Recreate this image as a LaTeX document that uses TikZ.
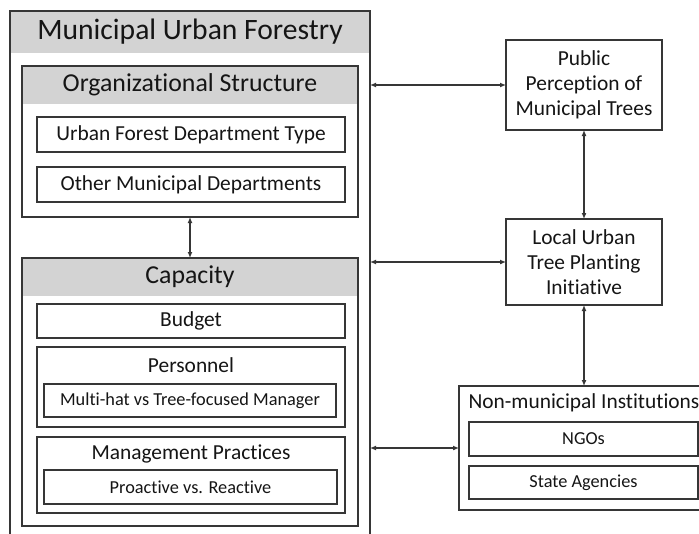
\documentclass[tikz,border=0pt]{standalone}
\usepackage{fontspec}
\setmainfont[Ligatures=NoCommon]{Carlito}
\usetikzlibrary{arrows.meta}
\definecolor{framec}{HTML}{363636}
\definecolor{headc}{HTML}{D3D3D3}
\definecolor{textc}{HTML}{151515}
\newcommand{\fsTitle}{\fontsize{29.6}{35}\selectfont}
\newcommand{\fsHead}{\fontsize{25.8}{30}\selectfont}
\newcommand{\fsItem}{\fontsize{21.4}{25}\selectfont}
\newcommand{\fsSub}{\fontsize{18.3}{22}\selectfont}
\begin{document}
\begin{tikzpicture}[x=1pt,y=-1pt,
  frame/.style={draw=framec, line width=1.3pt, inner sep=0pt, outer sep=0pt, anchor=north west},
  lbl/.style={text=textc, inner sep=0pt, align=center},
  link/.style={draw=framec, line width=1.3pt, {Latex[length=6pt,width=5pt]}-{Latex[length=6pt,width=5pt]}}
]
\useasboundingbox (0,0) rectangle (699,533);
\fill[white] (0,0) rectangle (699,533);
\clip (0,0) rectangle (699,533);

% header bands
\fill[headc] (10,11) rectangle (370,53);
\fill[headc] (22,66) rectangle (358,104);
\fill[headc] (22,258) rectangle (358,296);

% municipal side
\node[frame, minimum width=360pt, minimum height=549pt] (muf) at (10,11) {};
\node[lbl, font=\fsTitle] (muft) at (190,32) {Municipal Urban Forestry};

\node[frame, minimum width=336pt, minimum height=151pt] (org) at (22,66) {};
\node[lbl, font=\fsHead] (orgt) at (190,85) {Organizational Structure};
\node[frame, minimum width=308pt, minimum height=35pt, font=\fsItem, text=textc] (ufdt) at (37,117) {Urban Forest Department Type};
\node[frame, minimum width=308pt, minimum height=35pt, font=\fsItem, text=textc] (omd) at (37,167) {Other Municipal Departments};

\node[frame, minimum width=336pt, minimum height=268pt] (cap) at (22,258) {};
\node[lbl, font=\fsHead] (capt) at (190,277) {Capacity};
\node[frame, minimum width=308pt, minimum height=34pt, font=\fsItem, text=textc] (budget) at (37,304) {Budget};
\node[frame, minimum width=308pt, minimum height=80pt] (pers) at (37,347) {};
\node[lbl, font=\fsItem] (perst) at (191,365) {Personnel};
\node[frame, minimum width=292pt, minimum height=33pt, font=\fsSub, text=textc] (multi) at (44,384) {Multi-hat vs Tree-focused Manager};
\node[frame, minimum width=308pt, minimum height=76pt] (mgmt) at (37,437) {};
\node[lbl, font=\fsItem] (mgmtt) at (191,454) {Management Practices};
\node[frame, minimum width=293pt, minimum height=34pt, font=\fsSub, text=textc] (proact) at (44,470) {Proactive vs. Reactive};

% outside actors
\node[frame, minimum width=156pt, minimum height=90pt] (public) at (506,40) {};
\node[lbl, font=\fsItem] (publict) at (584,85) {Public\\Perception of\\Municipal Trees};
\node[frame, minimum width=156pt, minimum height=86pt] (local) at (506,219) {};
\node[lbl, font=\fsItem] (localt) at (local.center) {Local Urban\\Tree Planting\\Initiative};
\node[frame, minimum width=250pt, minimum height=124pt] (nonmun) at (459,386) {};
\node[lbl, font=\fsItem] (nonmunt) at (584,403) {Non-municipal Institutions};
\node[frame, minimum width=229pt, minimum height=34pt, font=\fsSub, text=textc] (ngos) at (469,422) {NGOs};
\node[frame, minimum width=229pt, minimum height=33pt, font=\fsSub, text=textc] (state) at (469,466) {State Agencies};

% relations
\draw[link] (org.south) -- (cap.north);
\draw[link] (muf.east |- public.west) -- (public.west);
\draw[link] (muf.east |- local.west) -- (local.west);
\draw[link] (muf.east |- nonmun.west) -- (nonmun.west);
\draw[link] (public.south) -- (local.north);
\draw[link] (local.south) -- (local.south |- nonmun.north);
\end{tikzpicture}
\end{document}
